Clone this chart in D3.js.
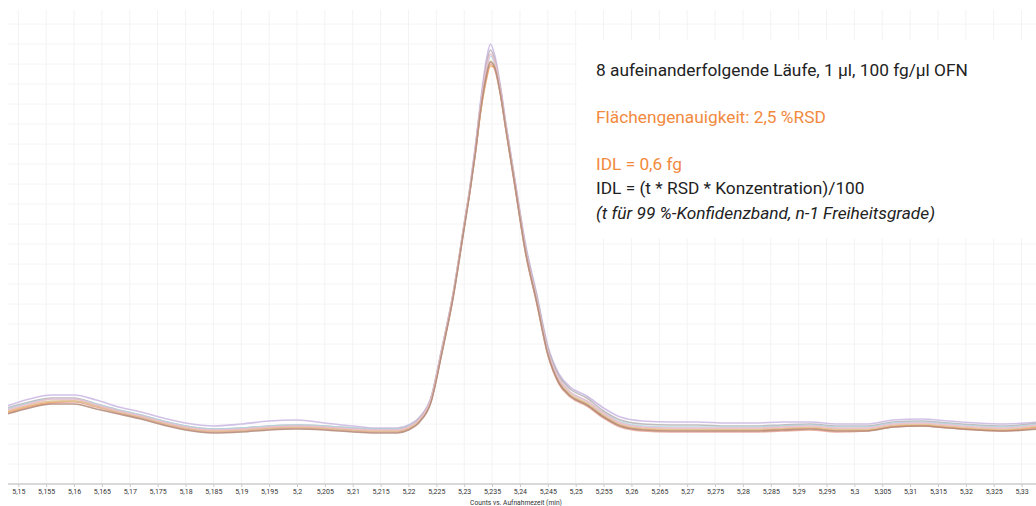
<!DOCTYPE html>
<html>
<head>
<meta charset="utf-8">
<script src="https://cdn.jsdelivr.net/npm/d3@7"></script>
<style>
  html, body { margin: 0; padding: 0; background: #fff; }
  svg { display: block; }
</style>
</head>
<body>
<svg id="chart" width="1036" height="506"></svg>
<script>
// ---- data ----
const times = [5.148, 5.152, 5.156, 5.160, 5.164, 5.168, 5.172, 5.176, 5.180, 5.185,
  5.190, 5.195, 5.200, 5.205, 5.210, 5.214, 5.218, 5.220, 5.222, 5.224,
  5.226, 5.228, 5.230, 5.231, 5.232, 5.233, 5.234, 5.2347, 5.2355, 5.2365,
  5.2375, 5.239, 5.241, 5.243, 5.245, 5.247, 5.249, 5.252, 5.255, 5.258,
  5.262, 5.267, 5.272, 5.277, 5.282, 5.287, 5.292, 5.297, 5.302, 5.307,
  5.312, 5.317, 5.322, 5.327, 5.333];

const run1 = [78, 85, 89, 89, 84, 77, 72, 66, 61, 58, 60, 63, 64, 61, 58, 56, 56, 59, 67, 86, 136, 190, 260, 296, 338, 386, 425, 440, 428, 398, 360, 308, 240, 190, 138, 110, 97, 88, 76, 67, 63, 62, 62, 61, 61, 62, 62, 60, 60, 64, 65, 63, 61, 60, 62];
const run2 = [76, 82, 86, 86, 80, 74, 69, 63, 58, 55, 56, 58, 59, 58, 56, 55, 55, 58, 66, 85, 135, 190, 260, 295, 336, 382, 420, 434, 424, 395, 358, 306, 237, 188, 136, 108, 95, 86, 73, 64, 60, 59, 59, 58, 58, 59, 60, 58, 58, 62, 63, 61, 59, 58, 61];
const run3 = [71, 77, 81, 82, 77, 71, 66, 60, 55, 52, 53, 55, 56, 55, 53, 52, 52, 55, 63, 82, 132, 187, 257, 292, 331, 375, 407, 420, 414, 389, 353, 301, 231, 181, 129, 100, 87, 78, 66, 57, 53, 52, 52, 52, 52, 53, 54, 52, 53, 57, 58, 56, 54, 53, 56];
const run4 = [72, 78, 82, 83, 78, 72, 67, 61, 56, 53, 54, 56, 57, 56, 54, 53, 53, 56, 64, 83, 133, 188, 258, 293, 331, 374, 405, 418, 416, 391, 355, 303, 233, 183, 131, 102, 89, 80, 68, 59, 55, 54, 54, 54, 54, 55, 56, 54, 54, 58, 59, 57, 55, 54, 57];
const run5 = [75, 81, 85, 85, 80, 74, 69, 63, 58, 55, 56, 58, 59, 58, 56, 55, 55, 58, 65, 84, 134, 189, 259, 294, 334, 380, 414, 428, 420, 393, 357, 305, 235, 185, 133, 105, 92, 83, 71, 62, 58, 57, 57, 57, 57, 58, 59, 57, 57, 61, 62, 60, 58, 57, 60];
const run6 = [73, 79, 83, 83, 78, 72, 67, 61, 56, 53, 54, 56, 57, 56, 54, 53, 53, 56, 64, 83, 133, 188, 258, 293, 333, 378, 410, 423, 417, 391, 355, 303, 233, 183, 131, 103, 90, 81, 69, 60, 56, 55, 55, 55, 55, 56, 57, 55, 55, 59, 60, 58, 56, 55, 58];
const run7 = [74, 80, 85, 85, 79, 73, 68, 62, 57, 54, 55, 57, 58, 57, 55, 54, 54, 57, 65, 84, 134, 189, 259, 294, 335, 381, 416, 430, 422, 394, 357, 305, 235, 185, 133, 105, 92, 83, 71, 61, 57, 56, 56, 56, 56, 57, 58, 56, 56, 60, 61, 59, 57, 56, 59];
const run8 = [70, 76, 80, 80, 75, 70, 65, 59, 54, 51, 52, 54, 55, 54, 52, 51, 51, 54, 62, 81, 131, 186, 256, 291, 331, 376, 409, 422, 416, 390, 354, 302, 232, 182, 130, 101, 88, 79, 67, 58, 54, 53, 53, 53, 53, 54, 55, 53, 53, 57, 58, 56, 54, 53, 55];

const runs = [run1, run2, run3, run4, run5, run6, run7, run8];
const runColors = ["#c9b6e2", "#b4b0b4", "#e8a696", "#f2a765", "#b2d6de", "#d9c49a", "#efbccb", "#b08878"];

const tickValues = [5.15, 5.155, 5.16, 5.165, 5.17, 5.175, 5.18, 5.185, 5.19, 5.195,
  5.2, 5.205, 5.21, 5.215, 5.22, 5.225, 5.23, 5.235, 5.24, 5.245,
  5.25, 5.255, 5.26, 5.265, 5.27, 5.275, 5.28, 5.285, 5.29, 5.295,
  5.3, 5.305, 5.31, 5.315, 5.32, 5.325, 5.33];

const xTitle = "Counts vs. Aufnahmezeit (min)";
const noteLines = [
  { text: "8 aufeinanderfolgende Läufe, 1 µl, 100 fg/µl OFN", color: "#222222", italic: false },
  { text: "Flächengenauigkeit: 2,5 %RSD", color: "#f28a3e", italic: false },
  { text: "IDL = 0,6 fg", color: "#f28a3e", italic: false },
  { text: "IDL = (t * RSD * Konzentration)/100", color: "#222222", italic: false },
  { text: "(t für 99 %-Konfidenzband, n-1 Freiheitsgrade)", color: "#222222", italic: true }
];

// ---- layout ----
const svg = d3.select("#chart");
const plotLeft = 8, plotRight = 1036, plotTop = 10, axisY = 484;

const x = d3.scaleLinear().domain([5.15, 5.33]).range([18.3, 1021.6]);
const y = d3.scaleLinear().domain([0, 450]).range([axisY, 34]);

// grid
const grid = svg.append("g");
grid.selectAll("line.v").data(tickValues).join("line")
  .attr("x1", d => x(d)).attr("x2", d => x(d))
  .attr("y1", plotTop).attr("y2", axisY)
  .attr("stroke", "#f3f3f3").attr("stroke-width", 1);
const hGrid = d3.range(0, 24).map(i => i * 20);
grid.selectAll("line.h").data(hGrid).join("line")
  .attr("x1", plotLeft).attr("x2", plotRight)
  .attr("y1", d => y(d)).attr("y2", d => y(d))
  .attr("stroke", "#f4f4f4").attr("stroke-width", 1);

// clip
svg.append("clipPath").attr("id", "clip").append("rect")
  .attr("x", plotLeft).attr("y", 0).attr("width", plotRight - plotLeft).attr("height", axisY);

const line = d3.line()
  .x((d, i) => x(times[i]))
  .y(d => y(d))
  .curve(d3.curveMonotoneX);

svg.append("g").attr("clip-path", "url(#clip)")
  .selectAll("path").data(runs).join("path")
  .attr("d", d => line(d))
  .attr("fill", "none")
  .attr("stroke", (d, i) => runColors[i])
  .attr("stroke-width", 1.6)
  .attr("stroke-opacity", 0.85);

// axis
const axis = d3.axisBottom(x)
  .tickValues(tickValues)
  .tickSize(3)
  .tickFormat(d => String(+d.toFixed(3)).replace(".", ","));
const ax = svg.append("g").attr("transform", `translate(0,${axisY})`).call(axis);
ax.select(".domain").attr("stroke", "#b8b8b8").attr("d", `M${plotLeft},0H${plotRight}`);
ax.selectAll(".tick line").attr("stroke", "#c8c8c8");
ax.selectAll(".tick text")
  .attr("font-family", "Roboto, 'Noto Sans', sans-serif")
  .attr("font-size", 7).attr("fill", "#333").attr("dy", "0.5em");

svg.append("text")
  .attr("x", 516).attr("y", 504.5)
  .attr("text-anchor", "middle")
  .attr("font-family", "Roboto, 'Noto Sans', sans-serif")
  .attr("font-size", 6.7).attr("fill", "#333")
  .text(xTitle);

// annotation box
svg.append("rect")
  .attr("x", 577).attr("y", 40).attr("width", 459).attr("height", 198)
  .attr("fill", "#ffffff");

const noteY = [76, 123, 170, 194, 219];
svg.append("g").selectAll("text").data(noteLines).join("text")
  .attr("x", 596).attr("y", (d, i) => noteY[i])
  .attr("font-family", "Roboto, 'Noto Sans', sans-serif")
  .attr("font-size", 17.3)
  .attr("font-style", d => d.italic ? "italic" : "normal")
  .attr("fill", d => d.color)
  .text(d => d.text);
</script>
</body>
</html>
